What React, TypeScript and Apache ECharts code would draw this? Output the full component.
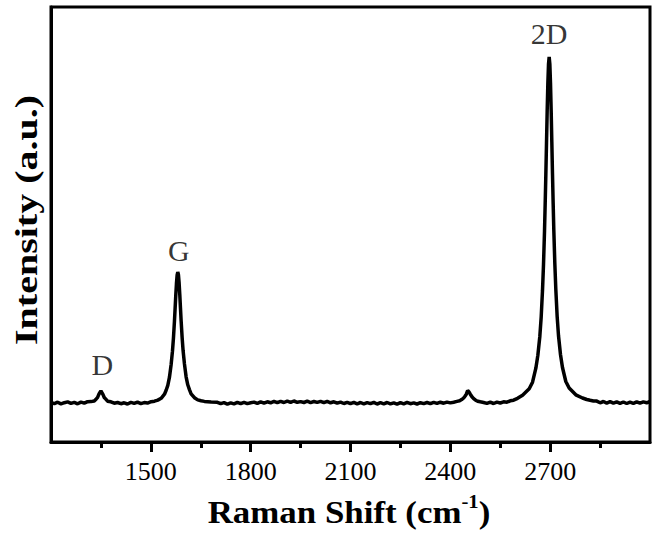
import React, { useEffect, useRef } from "react";
import * as echarts from "echarts";

// Raman spectrum: [Raman shift (cm^-1), intensity (a.u.)]
const spectrum: [number, number][] = [
  [1200, 395], [1210, 384], [1220, 398], [1230, 381], [1240, 393], [1250, 401],
  [1260, 386], [1270, 396], [1280, 382], [1290, 399], [1300, 388], [1310, 403],
  [1320, 404], [1330, 410], [1336, 430], [1340, 446], [1344, 478], [1348, 501],
  [1350, 512], [1352, 500], [1356, 476], [1360, 445], [1364, 431], [1370, 408],
  [1380, 402], [1390, 388], [1400, 395], [1410, 383], [1420, 392], [1430, 380],
  [1440, 396], [1450, 386], [1460, 399], [1470, 384], [1480, 394], [1490, 389],
  [1501, 403], [1511, 408], [1521, 419], [1531, 437], [1541, 478], [1546, 517],
  [1551, 566], [1556, 648], [1561, 775], [1565, 908], [1568, 1042], [1571, 1210],
  [1573, 1338], [1575, 1468], [1577, 1585], [1579, 1668], [1581, 1700], [1583, 1672],
  [1585, 1590], [1587, 1473], [1589, 1344], [1591, 1215], [1594, 1047], [1597, 912],
  [1601, 781], [1606, 652], [1611, 572], [1616, 524], [1621, 482], [1631, 443],
  [1641, 421], [1651, 412], [1661, 406], [1681, 399], [1700, 397], [1710, 383],
  [1720, 394], [1730, 379], [1740, 392], [1750, 381], [1760, 396], [1770, 383],
  [1780, 397], [1790, 384], [1800, 393], [1810, 399], [1820, 386], [1830, 401],
  [1840, 389], [1850, 402], [1860, 392], [1870, 406], [1880, 393], [1890, 407],
  [1900, 395], [1910, 409], [1920, 396], [1930, 410], [1940, 397], [1950, 404],
  [1960, 395], [1970, 408], [1980, 394], [1990, 405], [2000, 396], [2010, 407],
  [2020, 393], [2030, 406], [2040, 392], [2050, 402], [2060, 388], [2070, 399],
  [2080, 385], [2090, 397], [2100, 383], [2110, 396], [2120, 382], [2130, 395],
  [2140, 381], [2150, 394], [2160, 383], [2170, 396], [2180, 380], [2190, 393],
  [2200, 382], [2210, 395], [2220, 381], [2230, 392], [2240, 379], [2250, 394],
  [2260, 382], [2270, 396], [2280, 383], [2290, 391], [2300, 380], [2310, 393],
  [2320, 384], [2330, 395], [2340, 383], [2350, 396], [2360, 386], [2370, 398],
  [2380, 388], [2390, 399], [2400, 391], [2410, 398], [2420, 406], [2428, 412],
  [2434, 424], [2440, 440], [2444, 458], [2448, 478], [2452, 515], [2456, 500],
  [2460, 478], [2465, 452], [2470, 434], [2476, 418], [2482, 408], [2490, 402],
  [2500, 395], [2510, 386], [2520, 398], [2530, 385], [2540, 399], [2550, 390],
  [2560, 402], [2570, 398], [2580, 412], [2590, 418], [2602, 437], [2617, 468],
  [2637, 532], [2647, 598], [2657, 738], [2663, 868], [2669, 1058], [2673, 1248],
  [2677, 1518], [2680, 1776], [2683, 2108], [2685, 2380], [2687, 2672], [2689, 2990],
  [2691, 3308], [2693, 3583], [2695, 3778], [2697, 3850], [2699, 3782], [2701, 3590],
  [2703, 3315], [2705, 2998], [2707, 2680], [2709, 2385], [2711, 2115], [2714, 1785],
  [2717, 1525], [2721, 1255], [2725, 1065], [2731, 875], [2737, 745], [2747, 605],
  [2757, 540], [2777, 472], [2797, 440], [2810, 425], [2820, 417], [2830, 410],
  [2840, 409], [2850, 392], [2860, 405], [2870, 389], [2880, 403], [2890, 388],
  [2900, 401], [2910, 386], [2920, 400], [2930, 385], [2940, 399], [2950, 387],
  [2960, 402], [2970, 388], [2980, 401], [2990, 392], [3000, 405],
];

const xTickValues = [1500, 1800, 2100, 2400, 2700];

const peakLabels = [
  { name: "D", x: 1354, y: 780 },
  { name: "G", x: 1584, y: 1920 },
  { name: "2D", x: 2697, y: 4090 },
];

const xTitle = "Raman Shift (cm{sup|-1})";
const yTitle = "Intensity (a.u.)";

export default function App() {
  const ref = useRef<HTMLDivElement>(null);

  useEffect(() => {
    if (!ref.current) return;
    const chart = echarts.init(ref.current, null, { renderer: "svg" });
    const serif = '"Liberation Serif", "Times New Roman", Times, serif';
    chart.setOption({
      animation: false,
      backgroundColor: "#ffffff",
      grid: {
        left: 51,
        right: 8,
        top: 7,
        bottom: 97,
        show: true,
        borderColor: "#000",
        borderWidth: 3,
        backgroundColor: "transparent",
        containLabel: false,
        outerBoundsMode: "none",
      },
      xAxis: {
        type: "value",
        min: 1200,
        max: 3000,
        interval: 300,
        axisLine: { show: true, onZero: false, lineStyle: { color: "#000", width: 3 } },
        axisTick: {
          show: true,
          customValues: xTickValues,
          length: 10,
          lineStyle: { color: "#000", width: 3 },
        },
        minorTick: {
          show: true,
          splitNumber: 2,
          length: 6,
          lineStyle: { color: "#000", width: 3 },
        },
        splitLine: { show: false },
        minorSplitLine: { show: false },
        axisLabel: {
          customValues: xTickValues,
          formatter: (v: number) => String(v),
          fontFamily: serif,
          fontSize: 26,
          color: "#000",
          margin: 16,
        },
      },
      yAxis: {
        type: "value",
        min: 0,
        max: 4350,
        axisLine: { show: true, lineStyle: { color: "#000", width: 3 } },
        axisTick: { show: false },
        axisLabel: { show: false },
        splitLine: { show: false },
      },
      graphic: [
        {
          type: "text",
          x: 349,
          y: 512,
          scaleX: 1.09,
          style: {
            text: xTitle,
            fontFamily: serif,
            fontSize: 32,
            fontWeight: "bold",
            fill: "#000",
            align: "center",
            verticalAlign: "middle",
            lineHeight: 40,
            rich: {
              sup: {
                fontFamily: serif,
                fontSize: 19,
                fontWeight: "bold",
                fill: "#000",
                verticalAlign: "top",
                lineHeight: 20,
              },
            },
          },
        },
        {
          type: "text",
          x: 26,
          y: 220,
          rotation: Math.PI / 2,
          scaleX: 1.25,
          style: {
            text: yTitle,
            fontFamily: serif,
            fontSize: 32,
            fontWeight: "bold",
            fill: "#000",
            align: "center",
            verticalAlign: "middle",
          },
        },
      ],
      series: [
        {
          type: "line",
          data: spectrum,
          showSymbol: false,
          symbol: "none",
          lineStyle: { color: "#000", width: 3.5 },
          z: 3,
        },
        {
          type: "scatter",
          data: peakLabels.map((p) => ({ name: p.name, value: [p.x, p.y] })),
          symbolSize: 1,
          itemStyle: { color: "rgba(0,0,0,0)" },
          label: {
            show: true,
            position: "inside",
            formatter: "{b}",
            fontFamily: serif,
            fontSize: 30,
            color: "#000",
          },
          z: 4,
        },
      ],
    });
    return () => chart.dispose();
  }, []);

  return (
    <div
      ref={ref}
      style={{ position: "fixed", left: 0, top: 0, width: 658, height: 539 }}
    />
  );
}
